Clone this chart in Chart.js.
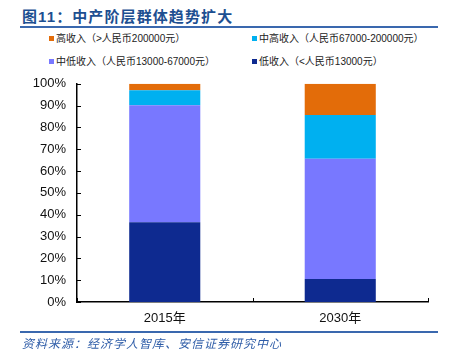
<!DOCTYPE html>
<html>
<head>
<meta charset="utf-8">
<script src="https://cdn.jsdelivr.net/npm/chart.js@4/dist/chart.umd.min.js"></script>
<style>
  body { margin: 0; width: 454px; height: 362px; background: #fff; position: relative; overflow: hidden;
         font-family: "Liberation Sans", "Noto Sans CJK SC", sans-serif; }
  #title { position: absolute; left: 22px; top: 5px; font-size: 15px; font-weight: bold; color: #1D4F91;
           letter-spacing: 1.1px; font-family: "Liberation Sans", "Noto Sans CJK SC", sans-serif; white-space: nowrap; }
  .rule { position: absolute; left: 20px; width: 418px; height: 1.5px; background: #3A68AE; }
  #legend { position: absolute; left: 49px; top: 33px; width: 400px; font-size: 10px; color: #222; }
  .item { position: absolute; white-space: nowrap; line-height: 12px; }
  .item span.box { display: inline-block; width: 5px; height: 5px; margin-right: 2px; vertical-align: 1px; }
  #wrap { position: absolute; left: 0; top: 65px; width: 454px; height: 267px; }
  #source { position: absolute; left: 22px; top: 334px; font-size: 12px; font-style: italic; color: #2F5DA8;
            letter-spacing: 1px; white-space: nowrap; font-family: "Noto Sans CJK SC", sans-serif; }
</style>
</head>
<body>
<div id="title">图11：中产阶层群体趋势扩大</div>
<div class="rule" style="top:26px"></div>
<div id="legend"></div>
<div id="wrap"><canvas id="c" width="454" height="267"></canvas></div>
<div class="rule" style="top:331px"></div>
<div id="source">资料来源：经济学人智库、安信证券研究中心</div>
<script>
const years = ['2015年', '2030年'];
const seriesNames = ['低收入（<人民币13000元）', '中低收入（人民币13000-67000元）', '中高收入（人民币67000-200000元）', '高收入（>人民币200000元）'];
const lowIncome = [36.5, 10.5];
const midLowIncome = [53.7, 55.2];
const midHighIncome = [6.9, 20];
const highIncome = [2.9, 14.3];
const seriesColors = ['#0E2A90', '#7878FF', '#00B0F0', '#E36C09'];
const yTicks = [0, 10, 20, 30, 40, 50, 60, 70, 80, 90, 100];

// legend order as in the picture: top row high / mid-high, bottom row mid-low / low
const legendOrder = [3, 2, 1, 0];
const legendPos = [[0, 0], [203, 0], [0, 23], [203, 23]];
const legend = document.getElementById('legend');
legendOrder.forEach((idx, i) => {
    let d = document.createElement('div');
    d.className = 'item';
    d.style.left = legendPos[i][0] + 'px';
    d.style.top = legendPos[i][1] + 'px';
    d.innerHTML = '<span class="box" style="background:' + seriesColors[idx] + '"></span>' + seriesNames[idx];
    legend.appendChild(d);
});

const allSeries = [lowIncome, midLowIncome, midHighIncome, highIncome];

// short inward tick marks like the original
const innerTicks = {
    id: 'innerTicks',
    afterDraw(chart) {
        const ctx = chart.ctx;
        const x = chart.scales.x, y = chart.scales.y;
        ctx.save();
        ctx.strokeStyle = '#000';
        ctx.lineWidth = 1;
        ctx.beginPath();
        yTicks.forEach(v => {
            let py = Math.round(y.getPixelForValue(v)) + 0.5;
            ctx.moveTo(x.left, py);
            ctx.lineTo(x.left + 4, py);
        });
        let mid = (x.getPixelForValue(0) + x.getPixelForValue(1)) / 2;
        [x.left, mid, x.right].forEach(px => {
            px = Math.round(px) + 0.5;
            ctx.moveTo(px, y.bottom);
            ctx.lineTo(px, y.bottom - 4);
        });
        ctx.stroke();
        ctx.restore();
    }
};

new Chart(document.getElementById('c'), {
    type: 'bar',
    data: {
        labels: years,
        datasets: allSeries.map((s, i) => ({
            label: seriesNames[i],
            data: s,
            backgroundColor: seriesColors[i],
            borderWidth: 0,
            categoryPercentage: 1,
            barPercentage: 0.405
        }))
    },
    options: {
        responsive: false,
        animation: false,
        devicePixelRatio: 1,
        layout: { padding: { top: 7, right: 26, left: 0, bottom: 0 } },
        plugins: { legend: { display: false }, tooltip: { enabled: false } },
        scales: {
            x: {
                stacked: true,
                grid: { display: false, drawTicks: false },
                border: { display: true, color: '#000', width: 1.5 },
                ticks: { color: '#111', font: { size: 13, family: 'Liberation Sans, Noto Sans CJK SC' }, padding: 9 },
                afterFit: (scale) => { scale.height = 30; }
            },
            y: {
                stacked: true,
                min: 0, max: 100,
                afterBuildTicks: (scale) => { scale.ticks = yTicks.map(v => ({ value: v })); },
                grid: { display: false, drawTicks: false },
                border: { display: true, color: '#000', width: 1.5 },
                ticks: {
                    color: '#111',
                    autoSkip: false,
                    font: { size: 13, family: 'Liberation Sans' },
                    padding: 11,
                    callback: (v) => v + '%'
                },
                afterFit: (scale) => { scale.width = 77; }
            }
        }
    },
    plugins: [innerTicks]
});
</script>
</body>
</html>
